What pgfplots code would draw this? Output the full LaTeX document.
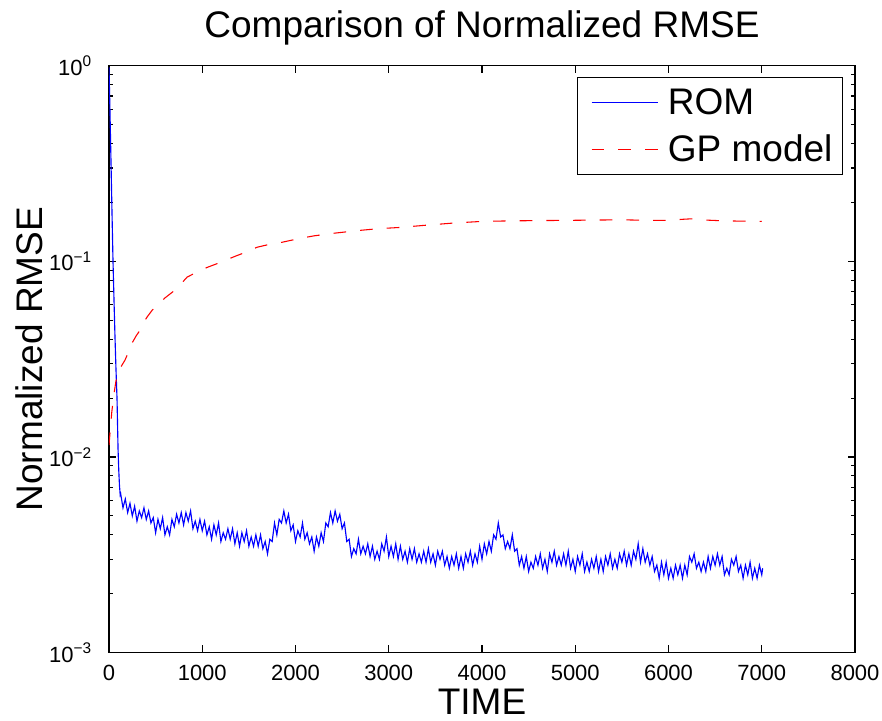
\documentclass[border=0pt]{standalone}
\usepackage{fontspec}
\setmainfont{Liberation Sans}
\usepackage{pgfplots}
\pgfplotsset{compat=1.18}
\begin{document}
\begin{tikzpicture}
\begin{axis}[
  scale only axis, width=559.5pt, height=440.25pt,
  xmin=0, xmax=8000, ymode=log, ymin=1e-3, ymax=1,
  xtick={0,1000,2000,3000,4000,5000,6000,7000,8000},
  xticklabels={0,1000,2000,3000,4000,5000,6000,7000,8000},
  scaled x ticks=false, minor x tick num=0,
  ytick={0.001,0.01,0.1,1},
  yticklabels={10\textsuperscript{−3},10\textsuperscript{−2},10\textsuperscript{−1},10\textsuperscript{0}},
  minor ytick={0.002,0.003,0.004,0.005,0.006,0.007,0.008,0.009,0.02,0.03,0.04,0.05,0.06,0.07,0.08,0.09,0.2,0.3,0.4,0.5,0.6,0.7,0.8,0.9},
  tick align=inside, major tick length=5.6pt, minor tick length=3pt,
  axis line style={line width=1pt, black},
  every tick/.style={line width=0.8pt, black},
  ticklabel style={font=\fontsize{16.5}{18}\selectfont},
  xticklabel style={anchor=north, inner sep=0pt, yshift=-9.2pt},
  yticklabel style={anchor=east, inner sep=0pt, xshift=-12.75pt},
  title={Comparison of Normalized RMSE},
  title style={at={(axis description cs:0.5,1.0352)}, anchor=base, inner sep=0pt, font=\fontsize{27.75}{30}\selectfont},
  xlabel={TIME},
  xlabel style={at={(axis description cs:0.5,-0.1055)}, anchor=base, inner sep=0pt, font=\fontsize{27.75}{30}\selectfont},
  ylabel={Normalized RMSE},
  ylabel style={at={(axis description cs:-0.0885,0.5)}, anchor=base, inner sep=0pt, font=\fontsize{27.75}{30}\selectfont},
  legend image code/.code={\path (-3pt,0pt); \draw[#1] (0pt,0pt) -- (50pt,0pt);},
  legend cell align=left,
  legend style={at={(axis description cs:1,1)}, anchor=north east, xshift=-9pt, yshift=-8.5pt,
    draw=black, line width=0.8pt, fill=white,
    font=\fontsize{27.75}{30}\selectfont,
    inner xsep=7.5pt, inner ysep=8.5pt, row sep=13.5pt,
    nodes={inner sep=0pt, anchor=west},
    /tikz/every odd column/.style={column sep=6.75pt}},
]
\addplot[blue, line width=0.85pt] coordinates {
(0,0.98) (10,0.6) (20,0.35) (30,0.2) (43,0.1) (55,0.06) (65,0.04) (75,0.028) (86,0.02) (97,0.011) (105,0.0085) (112,0.0072) (120,0.0064)
(125,0.0065) (150,0.0055) (175,0.0061) (200,0.0052) (225,0.0058) (250,0.0050) (275,0.0056) (300,0.0047) (325,0.0053) (350,0.0049)
(375,0.0055) (400,0.0048) (425,0.0053) (450,0.0046) (475,0.0049) (500,0.0041) (525,0.0048) (550,0.0043) (575,0.0049) (600,0.0040)
(625,0.0044) (650,0.0040) (675,0.0048) (700,0.0044) (725,0.0051) (750,0.0046) (775,0.0052) (800,0.0045) (825,0.0052) (850,0.0047)
(875,0.0053) (900,0.0043) (925,0.0047) (950,0.0042) (975,0.0048) (1000,0.0042) (1025,0.0047) (1050,0.0040) (1075,0.0044) (1100,0.0038)
(1125,0.0045) (1150,0.0040) (1175,0.0046) (1200,0.0037) (1225,0.0041) (1250,0.0038) (1275,0.0043) (1300,0.0038) (1325,0.0043) (1350,0.0036)
(1375,0.0041) (1400,0.0035) (1425,0.0041) (1450,0.0037) (1475,0.0042) (1500,0.0035) (1525,0.0039) (1550,0.0035) (1575,0.0040) (1600,0.0035)
(1625,0.0040) (1650,0.0034) (1675,0.0037) (1700,0.0032) (1725,0.0038) (1750,0.0037) (1775,0.0046) (1800,0.0040) (1825,0.0048) (1850,0.0046)
(1875,0.0053) (1900,0.0046) (1925,0.0051) (1950,0.0042) (1975,0.0045) (2000,0.0037) (2025,0.0042) (2050,0.0039) (2075,0.0046) (2100,0.0038)
(2125,0.0041) (2150,0.0036) (2175,0.0039) (2200,0.0033) (2225,0.0039) (2250,0.0035) (2275,0.0041) (2300,0.0037) (2325,0.0046) (2350,0.0044)
(2375,0.0052) (2400,0.0046) (2425,0.0053) (2450,0.0047) (2475,0.0051) (2500,0.0043) (2525,0.0046) (2550,0.0037) (2575,0.0038) (2600,0.0031)
(2625,0.0034) (2650,0.0032) (2675,0.0038) (2700,0.0032) (2725,0.0035) (2750,0.0032) (2775,0.0036) (2800,0.0031) (2825,0.0035) (2850,0.0030)
(2875,0.0033) (2900,0.0030) (2925,0.0036) (2950,0.0033) (2975,0.0039) (3000,0.0031) (3025,0.0035) (3050,0.0031) (3075,0.0036) (3100,0.0030)
(3125,0.0035) (3150,0.0030) (3175,0.0033) (3200,0.0029) (3225,0.0034) (3250,0.0030) (3275,0.0034) (3300,0.0029) (3325,0.0032) (3350,0.0029)
(3375,0.0033) (3400,0.0029) (3425,0.0034) (3450,0.0029) (3475,0.0032) (3500,0.0028) (3525,0.0033) (3550,0.0030) (3575,0.0033) (3600,0.0028)
(3625,0.0031) (3650,0.0027) (3675,0.0031) (3700,0.0028) (3725,0.0032) (3750,0.0027) (3775,0.0031) (3800,0.0027) (3825,0.0032) (3850,0.0029)
(3875,0.0033) (3900,0.0028) (3925,0.0032) (3950,0.0029) (3975,0.0035) (4000,0.0030) (4025,0.0036) (4050,0.0032) (4075,0.0037) (4100,0.0033)
(4125,0.0040) (4150,0.0038) (4175,0.0046) (4200,0.0039) (4225,0.0040) (4250,0.0034) (4275,0.0037) (4300,0.0034) (4325,0.0040) (4350,0.0033)
(4375,0.0034) (4400,0.0028) (4425,0.0031) (4450,0.0027) (4475,0.0031) (4500,0.0026) (4525,0.0029) (4550,0.0027) (4575,0.0031) (4600,0.0028)
(4625,0.0032) (4650,0.0027) (4675,0.0030) (4700,0.0026) (4725,0.0032) (4750,0.0029) (4775,0.0033) (4800,0.0028) (4825,0.0031) (4850,0.0028)
(4875,0.0032) (4900,0.0028) (4925,0.0033) (4950,0.0027) (4975,0.0030) (5000,0.0026) (5025,0.0031) (5050,0.0028) (5075,0.0032) (5100,0.0026)
(5125,0.0029) (5150,0.0026) (5175,0.0030) (5200,0.0027) (5225,0.0031) (5250,0.0026) (5275,0.0030) (5300,0.0026) (5325,0.0031) (5350,0.0028)
(5375,0.0032) (5400,0.0027) (5425,0.0030) (5450,0.0027) (5475,0.0032) (5500,0.0029) (5525,0.0033) (5550,0.0028) (5575,0.0032) (5600,0.0028)
(5625,0.0033) (5650,0.0030) (5675,0.0036) (5700,0.0029) (5725,0.0034) (5750,0.0029) (5775,0.0032) (5800,0.0028) (5825,0.0031) (5850,0.0026)
(5875,0.0028) (5900,0.0024) (5925,0.0029) (5950,0.0025) (5975,0.0029) (6000,0.0024) (6025,0.0027) (6050,0.0024) (6075,0.0028) (6100,0.0025)
(6125,0.0028) (6150,0.0024) (6175,0.0028) (6200,0.0025) (6225,0.0031) (6250,0.0029) (6275,0.0032) (6300,0.0027) (6325,0.0029) (6350,0.0026)
(6375,0.0029) (6400,0.0026) (6425,0.0031) (6450,0.0027) (6475,0.0031) (6500,0.0028) (6525,0.0032) (6550,0.0028) (6575,0.0031) (6600,0.0025)
(6625,0.0027) (6650,0.0025) (6675,0.0030) (6700,0.0028) (6725,0.0031) (6750,0.0026) (6775,0.0028) (6800,0.0024) (6825,0.0028) (6850,0.0025)
(6875,0.0029) (6900,0.0024) (6925,0.0027) (6950,0.0024) (6975,0.0028) (7000,0.0025) (7010,0.0027)
};
\addlegendentry{ROM}
\addplot[red, line width=0.8pt, dash pattern=on 9.5pt off 10.5pt] coordinates {
(0,0.0115) (15,0.0140) (30,0.0170) (54,0.0211) (75,0.0245) (97,0.0268) (130,0.0290) (172,0.0313) (210,0.0345) (247,0.0382)
(290,0.0415) (333,0.0445) (370,0.0485) (408,0.0519) (460,0.0560) (515,0.0597) (600,0.0650) (708,0.0713) (780,0.0775) (837,0.0830)
(900,0.0860) (943,0.0880) (1050,0.0930) (1200,0.0990) (1350,0.1060) (1480,0.1120) (1587,0.1180) (1700,0.1215) (1850,0.1250) (2048,0.1310)
(2200,0.1350) (2400,0.1390) (2692,0.1440) (2900,0.1470) (3120,0.1490) (3400,0.1530) (3700,0.1570) (4000,0.1600) (4300,0.1610) (4600,0.1615)
(4933,0.1620) (5200,0.1625) (5500,0.1630) (5800,0.1620) (6000,0.1620) (6150,0.1640) (6250,0.1650) (6400,0.1625) (6600,0.1610) (6800,0.1605) (7000,0.1600)
};
\addlegendentry{GP model}
\end{axis}
\pgfresetboundingbox
\path[use as bounding box] (-81.75pt,-51.2pt) rectangle (579.75pt,489.5pt);
\end{tikzpicture}
\end{document}
